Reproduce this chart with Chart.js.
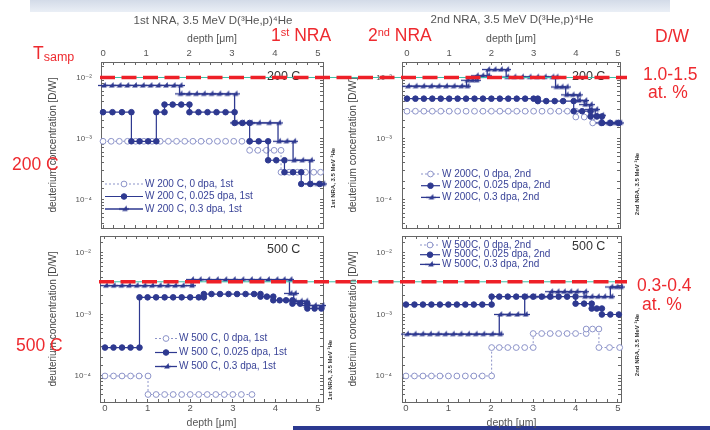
<!DOCTYPE html>
<html><head><meta charset="utf-8">
<script src="https://cdn.jsdelivr.net/npm/chart.js"></script>
<style>
html,body{margin:0;padding:0;background:#fff;}
#wrap{position:relative;width:710px;height:430px;overflow:hidden;font-family:"Liberation Sans",Arial,sans-serif;}
#wrap canvas{position:absolute;left:0;top:0;}
.red{position:absolute;color:#ee2a2f;font-size:17.5px;line-height:1;white-space:nowrap;z-index:10;}
.sup{font-size:11px;position:relative;top:-5px;}
.band{position:absolute;left:30px;top:0;width:640px;height:12px;background:linear-gradient(to bottom,#d3dbe8,#eaeff6);}
.bar{position:absolute;left:293px;top:426px;width:417px;height:4px;background:#2b3990;}
</style></head>
<body>
<div id="wrap">
<div class="band"></div>
<div class="bar"></div>
<div class="red" style="left:33px;top:45px">T<span style="font-size:12.5px;position:relative;top:2px">samp</span></div>
<div class="red" style="left:12px;top:156px">200 C</div>
<div class="red" style="left:16px;top:337px">500 C</div>
<div class="red" style="left:271px;top:27px">1<span class="sup">st</span> NRA</div>
<div class="red" style="left:368px;top:27px">2<span class="sup">nd</span> NRA</div>
<div class="red" style="left:655px;top:28px">D/W</div>
<div class="red" style="left:643px;top:66px">1.0-1.5</div>
<div class="red" style="left:648px;top:84px">at. %</div>
<div class="red" style="left:637px;top:277px">0.3-0.4</div>
<div class="red" style="left:642px;top:296px">at. %</div>
</div>
<script>
// ---------------- data (depth in µm, concentration D/W) ----------------
// Panel A: 1st NRA, 200 C
const depthA0 = [0,0.19,0.38,0.57,0.76,0.95,1.14,1.33,1.52,1.71,1.9,2.09,2.28,2.47,2.66,2.85,3.04,3.23,3.41, 3.41,3.6,3.8,3.98,4.14, 4.14,4.33,4.52,4.71,4.9,5.06];
const concA0  = [9e-4,9e-4,9e-4,9e-4,9e-4,9e-4,9e-4,9e-4,9e-4,9e-4,9e-4,9e-4,9e-4,9e-4,9e-4,9e-4,9e-4,9e-4,9e-4, 6.4e-4,6.4e-4,6.4e-4,6.4e-4,6.4e-4, 2.8e-4,2.8e-4,2.8e-4,2.8e-4,2.8e-4,2.8e-4];
const depthA1 = [0,0.22,0.44,0.66, 0.66,0.85,1.05,1.24, 1.24,1.43, 1.43,1.62,1.82,2.01, 2.01,2.22,2.43,2.64,2.85,3.06, 3.06,3.24,3.41, 3.41,3.62,3.84, 3.84,4.03,4.22, 4.22,4.42,4.61, 4.61,4.82,5.04];
const concA1  = [2.7e-3,2.7e-3,2.7e-3,2.7e-3, 9e-4,9e-4,9e-4,9e-4, 2.7e-3,2.7e-3, 3.6e-3,3.6e-3,3.6e-3,3.6e-3, 2.7e-3,2.7e-3,2.7e-3,2.7e-3,2.7e-3,2.7e-3, 1.8e-3,1.8e-3,1.8e-3, 9e-4,9e-4,9e-4, 4.4e-4,4.4e-4,4.4e-4, 2.8e-4,2.8e-4,2.8e-4, 1.8e-4,1.8e-4,1.8e-4];
const depthA2 = [0,0.18,0.36,0.54,0.72,0.9,1.08,1.26,1.44,1.62,1.78, 1.78,1.96,2.14,2.32,2.5,2.68,2.87,3.06, 3.06,3.23,3.41,3.6,3.84,4.07, 4.07,4.24,4.42, 4.42,4.61,4.81, 4.81,4.96,5.1];
const concA2  = [7.4e-3,7.4e-3,7.4e-3,7.4e-3,7.4e-3,7.4e-3,7.4e-3,7.4e-3,7.4e-3,7.4e-3,7.4e-3, 5.4e-3,5.4e-3,5.4e-3,5.4e-3,5.4e-3,5.4e-3,5.4e-3,5.4e-3, 1.8e-3,1.8e-3,1.8e-3,1.8e-3,1.8e-3,1.8e-3, 9e-4,9e-4,9e-4, 4.4e-4,4.4e-4,4.4e-4, 1.8e-4,1.8e-4,1.8e-4];
// Panel B: 2nd NRA, 200 C
const depthB0 = [0,0.2,0.4,0.6,0.8,1.0,1.2,1.4,1.6,1.8,2.0,2.2,2.4,2.6,2.8,3.0,3.2,3.4,3.6,3.8,4.0, 4.0,4.2,4.4, 4.4,4.6,4.8,5.0];
const concB0  = [2.8e-3,2.8e-3,2.8e-3,2.8e-3,2.8e-3,2.8e-3,2.8e-3,2.8e-3,2.8e-3,2.8e-3,2.8e-3,2.8e-3,2.8e-3,2.8e-3,2.8e-3,2.8e-3,2.8e-3,2.8e-3,2.8e-3,2.8e-3,2.8e-3, 2.25e-3,2.25e-3,2.25e-3, 1.8e-3,1.8e-3,1.8e-3,1.8e-3];
const depthB1 = [0,0.2,0.4,0.6,0.8,1.0,1.2,1.4,1.6,1.8,2.0,2.2,2.4,2.6,2.8,3.0,3.1, 3.1,3.3,3.5,3.7,3.95, 3.95,4.15,4.35, 4.35,4.5,4.62, 4.62,4.82,5.02];
const concB1  = [4.5e-3,4.5e-3,4.5e-3,4.5e-3,4.5e-3,4.5e-3,4.5e-3,4.5e-3,4.5e-3,4.5e-3,4.5e-3,4.5e-3,4.5e-3,4.5e-3,4.5e-3,4.5e-3,4.5e-3, 4.1e-3,4.1e-3,4.1e-3,4.1e-3,4.1e-3, 2.8e-3,2.8e-3,2.8e-3, 2.3e-3,2.3e-3,2.3e-3, 1.8e-3,1.8e-3,1.8e-3];
const depthB2 = [0,0.18,0.36,0.54,0.72,0.9,1.08,1.26,1.41, 1.41,1.52,1.63, 1.63,1.76,1.9, 1.9,2.05,2.2,2.35, 2.35,2.52,2.7,2.88,3.06,3.24,3.42,3.52, 3.52,3.64,3.76, 3.76,3.9,4.05, 4.05,4.2, 4.2,4.33, 4.33,4.46, 4.46,4.6, 4.6,4.75,4.9,5.03];
const concB2  = [7.2e-3,7.2e-3,7.2e-3,7.2e-3,7.2e-3,7.2e-3,7.2e-3,7.2e-3,7.2e-3, 9e-3,9e-3,9e-3, 1.07e-2,1.07e-2,1.07e-2, 1.35e-2,1.35e-2,1.35e-2,1.35e-2, 1.02e-2,1.02e-2,1.02e-2,1.02e-2,1.02e-2,1.02e-2,1.02e-2,1.02e-2, 7e-3,7e-3,7e-3, 5.2e-3,5.2e-3,5.2e-3, 4.2e-3,4.2e-3, 3.6e-3,3.6e-3, 3.0e-3,3.0e-3, 2.4e-3,2.4e-3, 1.8e-3,1.8e-3,1.8e-3,1.8e-3];
// Panel C: 1st NRA, 500 C
const depthC0 = [0,0.2,0.4,0.6,0.8,1.01, 1.01,1.2,1.4,1.6,1.8,2.0,2.2,2.4,2.6,2.8,3.0,3.2,3.45];
const concC0  = [1e-4,1e-4,1e-4,1e-4,1e-4,1e-4, 5e-5,5e-5,5e-5,5e-5,5e-5,5e-5,5e-5,5e-5,5e-5,5e-5,5e-5,5e-5,5e-5];
const depthC1 = [0,0.2,0.4,0.6,0.81, 0.81,1.0,1.2,1.4,1.6,1.8,2.0,2.2,2.32, 2.32,2.5,2.7,2.9,3.1,3.3,3.5,3.65, 3.65,3.8,3.95, 3.95,4.1,4.25,4.4, 4.4,4.58,4.75, 4.75,4.92,5.08];
const concC1  = [2.9e-4,2.9e-4,2.9e-4,2.9e-4,2.9e-4, 1.9e-3,1.9e-3,1.9e-3,1.9e-3,1.9e-3,1.9e-3,1.9e-3,1.9e-3,1.9e-3, 2.15e-3,2.15e-3,2.15e-3,2.15e-3,2.15e-3,2.15e-3,2.15e-3,2.15e-3, 1.95e-3,1.95e-3,1.95e-3, 1.7e-3,1.7e-3,1.7e-3,1.7e-3, 1.5e-3,1.5e-3,1.5e-3, 1.25e-3,1.25e-3,1.25e-3];
const depthC2 = [0,0.18,0.36,0.54,0.72,0.9,1.08,1.26,1.44,1.62,1.8,2.02, 2.02,2.2,2.4,2.6,2.8,3.0,3.2,3.4,3.6,3.8,4.0,4.17,4.33, 4.33,4.43, 4.43,4.57,4.7, 4.7,4.9,5.08];
const concC2  = [2.95e-3,2.95e-3,2.95e-3,2.95e-3,2.95e-3,2.95e-3,2.95e-3,2.95e-3,2.95e-3,2.95e-3,2.95e-3,2.95e-3, 3.7e-3,3.7e-3,3.7e-3,3.7e-3,3.7e-3,3.7e-3,3.7e-3,3.7e-3,3.7e-3,3.7e-3,3.7e-3,3.7e-3,3.7e-3, 2.2e-3,2.2e-3, 1.65e-3,1.65e-3,1.65e-3, 1.4e-3,1.4e-3,1.4e-3];
// Panel D: 2nd NRA, 500 C
const depthD0 = [0,0.2,0.4,0.6,0.8,1.0,1.2,1.4,1.6,1.8,2.02, 2.02,2.2,2.4,2.6,2.8,3.0, 3.0,3.2,3.4,3.6,3.8,4.0,4.25, 4.25,4.4,4.55, 4.55,4.8,5.04];
const concD0  = [1e-4,1e-4,1e-4,1e-4,1e-4,1e-4,1e-4,1e-4,1e-4,1e-4,1e-4, 2.9e-4,2.9e-4,2.9e-4,2.9e-4,2.9e-4,2.9e-4, 4.9e-4,4.9e-4,4.9e-4,4.9e-4,4.9e-4,4.9e-4,4.9e-4, 5.8e-4,5.8e-4,5.8e-4, 2.9e-4,2.9e-4,2.9e-4];
const depthD1 = [0,0.2,0.4,0.6,0.8,1.0,1.2,1.4,1.6,1.8,2.02, 2.02,2.2,2.4,2.6,2.8,3.0,3.2,3.4,3.6,3.8,4.0, 4.0,4.2,4.38, 4.38,4.5,4.62, 4.62,4.82,5.02];
const concD1  = [1.45e-3,1.45e-3,1.45e-3,1.45e-3,1.45e-3,1.45e-3,1.45e-3,1.45e-3,1.45e-3,1.45e-3,1.45e-3, 1.95e-3,1.95e-3,1.95e-3,1.95e-3,1.95e-3,1.95e-3,1.95e-3,1.95e-3,1.95e-3,1.95e-3,1.95e-3, 1.5e-3,1.5e-3,1.5e-3, 1.25e-3,1.25e-3,1.25e-3, 1.0e-3,1.0e-3,1.0e-3];
const depthD2 = [0,0.18,0.36,0.54,0.72,0.9,1.08,1.26,1.44,1.62,1.8,2.0,2.2, 2.2,2.4,2.6,2.8, 2.8,3.0,3.2,3.4, 3.4,3.55,3.7,3.85,4.0,4.2, 4.2,4.35,4.5,4.65,4.82, 4.82,4.94,5.05];
const concD2  = [4.8e-4,4.8e-4,4.8e-4,4.8e-4,4.8e-4,4.8e-4,4.8e-4,4.8e-4,4.8e-4,4.8e-4,4.8e-4,4.8e-4,4.8e-4, 1.0e-3,1.0e-3,1.0e-3,1.0e-3, 1.95e-3,1.95e-3,1.95e-3,1.95e-3, 2.35e-3,2.35e-3,2.35e-3,2.35e-3,2.35e-3,2.35e-3, 1.95e-3,1.95e-3,1.95e-3,1.95e-3,1.95e-3, 2.8e-3,2.8e-3,2.8e-3];

const legendA = ['W 200 C, 0 dpa, 1st','W 200 C, 0.025 dpa, 1st','W 200 C, 0.3 dpa, 1st'];
const legendB = ['W 200C, 0 dpa, 2nd','W 200C, 0.025 dpa, 2nd','W 200C, 0.3 dpa, 2nd'];
const legendC = ['W 500 C, 0 dpa, 1st','W 500 C, 0.025 dpa, 1st','W 500 C, 0.3 dpa, 1st'];
const legendD = ['W 500C, 0 dpa, 2nd','W 500C, 0.025 dpa, 2nd','W 500C, 0.3 dpa, 2nd'];
const xTickLabels = ['0','1','2','3','4','5'];
const yTickLabels = {'-4':'10⁻⁴','-3':'10⁻³','-2':'10⁻²'};
const title1 = '1st NRA, 3.5 MeV D(³He,p)⁴He';
const title2 = '2nd NRA, 3.5 MeV D(³He,p)⁴He';
const yTitle = 'deuterium concentration [D/W]';
const thresholdHigh = 0.01;   // 1.0 at.%
const thresholdLow = 3.4e-3;  // ~0.35 at.%

// ---------------- styling ----------------
const F = "'Liberation Sans', 'DejaVu Sans', Arial, sans-serif";
const NAVY = '#2e3990', LIGHT = '#8c93c9';
const halfTri = (() => {
  const c = document.createElement('canvas'); c.width = 10; c.height = 9;
  const g = c.getContext('2d');
  g.strokeStyle = NAVY; g.fillStyle = NAVY; g.lineWidth = 1.3;
  g.beginPath(); g.moveTo(0, 4.5); g.lineTo(10, 4.5); g.stroke();
  g.beginPath(); g.moveTo(3, 6.5); g.lineTo(8.5, 6.5); g.lineTo(7.5, 1); g.closePath(); g.fill();
  return c;
})();

function makeDs(xs, ys, kind) {
  const data = xs.map((x, i) => ({x: x, y: ys[i]}));
  const base = {data, showLine: true, clip: false, xAxisID: 'x', yAxisID: 'y'};
  if (kind === 0) return Object.assign(base, {order: 3, borderColor: LIGHT, borderWidth: 1, borderDash: [2, 2],
    pointStyle: 'circle', pointRadius: 2.9, pointBorderColor: LIGHT, pointBackgroundColor: '#ffffff', pointBorderWidth: 1});
  if (kind === 1) return Object.assign(base, {order: 2, borderColor: NAVY, borderWidth: 1.2,
    pointStyle: 'circle', pointRadius: 2.8, pointBorderColor: NAVY, pointBackgroundColor: NAVY, pointBorderWidth: 1});
  return Object.assign(base, {order: 1, borderColor: NAVY, borderWidth: 1.3,
    pointStyle: halfTri, pointRadius: 4, pointBorderColor: NAVY, pointBackgroundColor: NAVY, pointBorderWidth: 1});
}

const deco = {
  id: 'deco',
  afterDatasetsDraw(chart, args, o) {
    const ctx = chart.ctx, a = chart.chartArea, H = Chart.helpers;
    ctx.save();
    if (o.head) {
      ctx.font = '11.5px ' + F; ctx.fillStyle = '#555'; ctx.textAlign = 'center'; ctx.textBaseline = 'middle';
      ctx.fillText(o.head.text, (a.left + a.right) / 2 + 1, o.head.y);
    }
    if (o.corner) {
      ctx.font = '12.5px ' + F; ctx.fillStyle = '#333'; ctx.textAlign = 'left'; ctx.textBaseline = 'middle';
      ctx.fillText(o.corner.text, o.corner.x, o.corner.y);
    }
    if (o.legend) {
      const L = o.legend;
      chart.data.datasets.forEach((d, i) => {
        const y = L.y + i * L.dy;
        ctx.save();
        ctx.strokeStyle = d.borderColor; ctx.lineWidth = d.borderWidth; ctx.setLineDash(d.borderDash || []);
        ctx.beginPath(); ctx.moveTo(L.x, y); ctx.lineTo(L.x + L.w, y); ctx.stroke();
        ctx.setLineDash([]);
        ctx.fillStyle = d.pointBackgroundColor; ctx.strokeStyle = d.pointBorderColor; ctx.lineWidth = d.pointBorderWidth;
        H.drawPoint(ctx, {pointStyle: d.pointStyle, radius: d.pointRadius, borderWidth: d.pointBorderWidth, rotation: 0}, L.x + L.w / 2, y);
        ctx.restore();
        ctx.fillStyle = '#3a4498'; ctx.font = '10px ' + F; ctx.textAlign = 'left'; ctx.textBaseline = 'middle';
        ctx.fillText(L.labels[i], L.x + L.w + 2, y);
      });
    }
    if (o.side) {
      ctx.save(); ctx.translate(o.side.x, o.side.y); ctx.rotate(-Math.PI / 2);
      ctx.font = 'bold 6px ' + F; ctx.fillStyle = '#333'; ctx.textAlign = 'center'; ctx.textBaseline = 'middle';
      ctx.fillText(o.side.text, 0, 0); ctx.restore();
    }
    if (o.red) {
      const y = chart.scales.y.getPixelForValue(o.red.value);
      ctx.strokeStyle = '#3cbfa6'; ctx.lineWidth = 1; ctx.setLineDash([]);
      ctx.beginPath(); ctx.moveTo(a.left, y); ctx.lineTo(o.red.x2 - 2, y); ctx.stroke();
      ctx.strokeStyle = '#ee2028'; ctx.lineWidth = 3.5; ctx.setLineDash([15, 6.5]);
      ctx.beginPath(); ctx.moveTo(a.left - 1, y); ctx.lineTo(o.red.x2, y); ctx.stroke();
    }
    ctx.restore();
  }
};

function zp(s) { s.paddingLeft = 0; s.paddingRight = 0; s.paddingTop = 0; s.paddingBottom = 0; }
const tickGrid = {display: true, drawOnChartArea: false, drawTicks: true, tickLength: -3, color: '#666', lineWidth: 1};
const bord = {display: true, color: '#666', width: 1};
function xLab(v) { const r = Math.round(v); return Math.abs(v - r) < 1e-6 && xTickLabels[r] !== undefined ? xTickLabels[r] : ''; }
function yLab(v) { const e = Math.log10(v), r = Math.round(e); return Math.abs(e - r) < 1e-6 && yTickLabels[r] ? yTickLabels[r] : ''; }

function xMain(pos, min, max, size, tickPad, text, titlePad) {
  return {type: 'linear', position: pos, min, max, afterFit(s) { s.height = size; zp(s); },
    ticks: {stepSize: 0.25, includeBounds: false, autoSkip: false, maxRotation: 0, minRotation: 0, padding: tickPad, color: '#555', font: {family: F, size: 9.5}, callback: xLab},
    grid: tickGrid, border: bord,
    title: {display: true, text, color: '#555', font: {family: F, size: 10.5}, padding: titlePad}};
}
function xGhost(pos, min, max) {
  return {type: 'linear', position: pos, min, max, afterFit(s) { s.height = 0; zp(s); },
    ticks: {stepSize: 0.25, includeBounds: false, autoSkip: false, display: false}, grid: tickGrid, border: bord};
}
function yMain(min, max, width, tickPad) {
  return {type: 'logarithmic', position: 'left', min, max, afterFit(s) { s.width = width; zp(s); },
    ticks: {autoSkip: false, padding: tickPad, color: '#555', font: {family: F, size: 8}, callback: yLab},
    grid: tickGrid, border: bord,
    title: {display: true, text: yTitle, color: '#444', font: {family: F, size: 10}, padding: {top: 7, bottom: 0}}};
}
function yGhost(min, max) {
  return {type: 'logarithmic', position: 'right', min, max, afterFit(s) { s.width = 0; zp(s); },
    ticks: {autoSkip: false, display: false, callback: yLab}, grid: tickGrid, border: bord};
}

const topY = [Math.pow(10, -4.467), Math.pow(10, -1.746)];
const botY = [Math.pow(10, -4.423), Math.pow(10, -1.724)];

function panel(p) {
  const c = document.createElement('canvas'); c.width = 710; c.height = 430;
  document.getElementById('wrap').appendChild(c);
  const scales = p.top ? {
      x: xMain('top', p.xr[0], p.xr[1], 62, 6.4, 'depth [μm]', {top: 33, bottom: 0}),
      x2: xGhost('bottom', p.xr[0], p.xr[1]),
      y: yMain(p.yr[0], p.yr[1], p.yw, p.yp), y2: yGhost(p.yr[0], p.yr[1])
    } : {
      x: xMain('bottom', p.xr[0], p.xr[1], 28, 3.4, 'depth [μm]', {top: 0, bottom: 0.7}),
      x2: xGhost('top', p.xr[0], p.xr[1]),
      y: yMain(p.yr[0], p.yr[1], p.yw, p.yp), y2: yGhost(p.yr[0], p.yr[1])
    };
  return new Chart(c, {
    type: 'scatter',
    data: {datasets: p.series.map((s, i) => makeDs(s[0], s[1], i))},
    options: {
      responsive: false, animation: false, events: [],
      layout: {autoPadding: false, padding: p.pad},
      plugins: {legend: {display: false}, tooltip: {enabled: false}, deco: p.deco},
      scales
    },
    plugins: [deco]
  });
}

// Right-hand panels first so the red threshold lines of the left panels lie on top
panel({top: true, xr: [-0.118, 5.047], yr: topY, yw: 62, yp: 13,
  pad: {left: 340, right: 90, top: 0, bottom: 202},
  series: [[depthB0, concB0], [depthB1, concB1], [depthB2, concB2]],
  deco: {head: {text: title2, y: 20}, corner: {text: '200 C', x: 572, y: 77}, legend: {x: 421, y: 174, dy: 11.7, w: 19, labels: legendB},
         side: {text: '2nd NRA, 3.5 MeV ³He', x: 637, y: 184}}});
panel({top: false, xr: [-0.094, 5.071], yr: botY, yw: 62, yp: 13,
  pad: {left: 340, right: 89, top: 236, bottom: 0},
  series: [[depthD0, concD0], [depthD1, concD1], [depthD2, concD2]],
  deco: {corner: {text: '500 C', x: 572, y: 247}, legend: {x: 420, y: 245, dy: 9.7, w: 20, labels: legendD},
         side: {text: '2nd NRA, 3.5 MeV ³He', x: 637, y: 345}}});
panel({top: true, xr: [-0.047, 5.116], yr: topY, yw: 61, yp: 12,
  pad: {left: 40, right: 387, top: 0, bottom: 202},
  series: [[depthA0, concA0], [depthA1, concA1], [depthA2, concA2]],
  deco: {head: {text: title1, y: 21}, corner: {text: '200 C', x: 267, y: 77}, legend: {x: 105, y: 184, dy: 12.5, w: 38, labels: legendA},
         side: {text: '1st NRA, 3.5 MeV ³He', x: 333, y: 178}, red: {value: thresholdHigh, x2: 627}}});
panel({top: false, xr: [-0.117, 5.117], yr: botY, yw: 60, yp: 12,
  pad: {left: 40, right: 387, top: 236, bottom: 0},
  series: [[depthC0, concC0], [depthC1, concC1], [depthC2, concC2]],
  deco: {corner: {text: '500 C', x: 267, y: 250}, legend: {x: 155, y: 338.5, dy: 14, w: 22, labels: legendC},
         side: {text: '1st NRA, 3.5 MeV ³He', x: 330, y: 370}, red: {value: thresholdLow, x2: 627}}});
</script>
</body></html>
